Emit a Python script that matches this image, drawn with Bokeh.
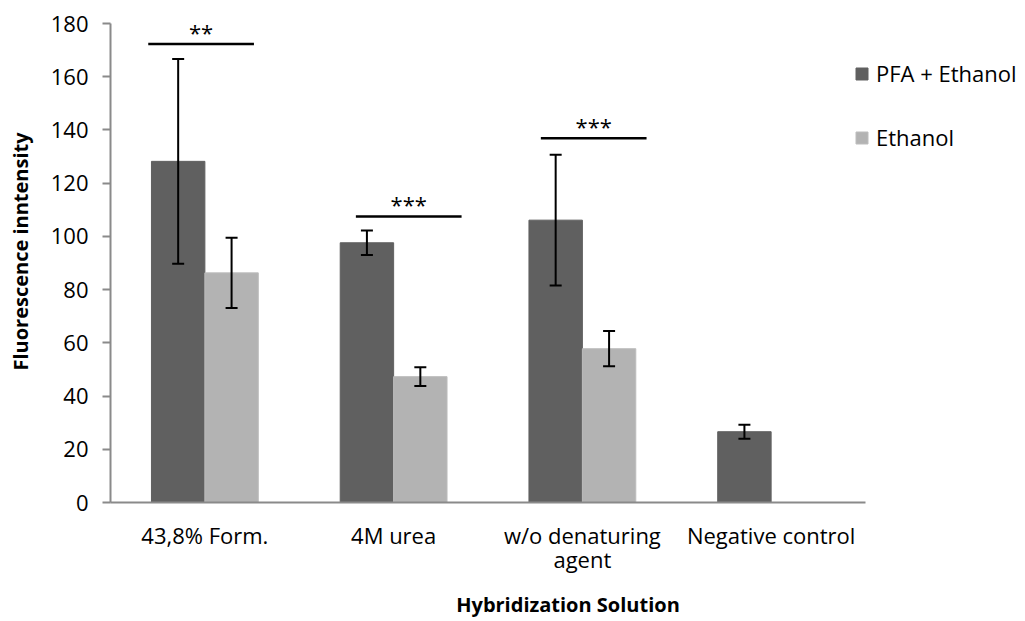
from bokeh.plotting import figure
from bokeh.models import (ColumnDataSource, Range1d, FixedTicker, Whisker, TeeHead,
                          Label, Legend, LegendItem)
from bokeh.embed import file_html
from bokeh.resources import INLINE

# Data
categories = ["43,8% Form.", "4M urea", "w/o denaturing\nagent", "Negative control"]
pfa_ethanol = [128.2, 97.6, 106.1, 26.6]
pfa_ethanol_err = [38.5, 4.6, 24.6, 2.6]
ethanol = [86.3, 47.3, 57.8]
ethanol_err = [13.2, 3.5, 6.6]

# Significance brackets: category index, left/right offsets (category units), level, stars
sig_category = [0, 1, 2]
sig_left = [-0.30, -0.20, -0.22]
sig_right = [0.26, 0.36, 0.34]
sig_level = [172.3, 107.5, 136.9]
sig_stars = ["**", "***", "***"]

FONT = "Open Sans"
DARK = "#606060"
LIGHT = "#b3b3b3"
AXIS = "#8a8a8a"
BAR_W = 0.283

n = len(categories)
centers = [i + 0.5 for i in range(n)]

# Frame spans the whole area right of / above the axes; axis lines are bounded
FRAME_W, FRAME_H = 915, 502
PX_PER_CAT = 188.75
PX_PER_UNIT = 479 / 180

p = figure(width=1025, height=621, frame_width=FRAME_W, frame_height=FRAME_H,
           output_backend="svg", toolbar_location=None,
           x_range=Range1d(0, FRAME_W / PX_PER_CAT),
           y_range=Range1d(0, FRAME_H / PX_PER_UNIT),
           min_border_left=110, min_border_right=0, min_border_top=0,
           min_border_bottom=0)
p.outline_line_color = None
p.grid.grid_line_color = None
p.background_fill_color = "white"
p.border_fill_color = "white"

dark_src = ColumnDataSource(dict(
    x=[c - BAR_W / 2 for c in centers], top=pfa_ethanol,
    lo=[v - e for v, e in zip(pfa_ethanol, pfa_ethanol_err)],
    hi=[v + e for v, e in zip(pfa_ethanol, pfa_ethanol_err)]))
light_src = ColumnDataSource(dict(
    x=[c + BAR_W / 2 for c in centers[:len(ethanol)]], top=ethanol,
    lo=[v - e for v, e in zip(ethanol, ethanol_err)],
    hi=[v + e for v, e in zip(ethanol, ethanol_err)]))

r_dark = p.vbar(x="x", top="top", width=BAR_W, source=dark_src,
                fill_color=DARK, line_color=DARK)
r_light = p.vbar(x="x", top="top", width=BAR_W, source=light_src,
                 fill_color=LIGHT, line_color="#bdbdbd")

for src in (dark_src, light_src):
    w = Whisker(base="x", lower="lo", upper="hi", source=src, level="overlay",
                line_color="black", line_width=2,
                upper_head=TeeHead(size=12, line_color="black", line_width=2),
                lower_head=TeeHead(size=12, line_color="black", line_width=2))
    p.add_layout(w)

# Significance lines and stars
sig_x0 = [centers[i] + l for i, l in zip(sig_category, sig_left)]
sig_x1 = [centers[i] + r for i, r in zip(sig_category, sig_right)]
p.segment(x0=sig_x0, x1=sig_x1, y0=sig_level, y1=sig_level,
          line_color="black", line_width=2.5)
for x0, x1, y, s in zip(sig_x0, sig_x1, sig_level, sig_stars):
    p.add_layout(Label(x=(x0 + x1) / 2, y=y, text=s, y_offset=12,
                       text_align="center", text_baseline="alphabetic",
                       text_font=FONT, text_font_size="22px", text_color="black"))

# Axes
p.yaxis.bounds = (0, 180)
p.yaxis.ticker = FixedTicker(ticks=list(range(0, 181, 20)))
p.yaxis.minor_tick_line_color = None
p.yaxis.major_tick_in = 0
p.yaxis.major_tick_out = 8
p.yaxis.major_label_standoff = 14
p.yaxis.axis_line_color = AXIS
p.yaxis.axis_line_width = 2
p.yaxis.major_tick_line_color = AXIS
p.yaxis.major_tick_line_width = 2
p.yaxis.major_label_text_font = FONT
p.yaxis.major_label_text_font_size = "22px"
p.yaxis.major_label_text_color = "black"
p.yaxis.axis_label = "Fluorescence inntensity"
p.yaxis.axis_label_text_font = FONT
p.yaxis.axis_label_text_font_style = "bold"
p.yaxis.axis_label_text_font_size = "20px"
p.yaxis.axis_label_text_color = "black"
p.yaxis.axis_label_standoff = 14

p.xaxis.bounds = (0, n)
p.xaxis.ticker = FixedTicker(ticks=centers)
p.xaxis.major_label_overrides = {c: lab for c, lab in zip(centers, categories)}
p.xaxis.minor_tick_line_color = None
p.xaxis.major_tick_line_color = None
p.xaxis.major_tick_in = 0
p.xaxis.major_tick_out = 0
p.xaxis.major_label_standoff = 17
p.xaxis.axis_line_color = AXIS
p.xaxis.axis_line_width = 2
p.xaxis.major_label_text_font = FONT
p.xaxis.major_label_text_font_size = "22px"
p.xaxis.major_label_text_line_height = 0.83
p.xaxis.major_label_text_color = "black"
p.xaxis.axis_label = "Hybridization Solution"
p.xaxis.axis_label_text_font = FONT
p.xaxis.axis_label_text_font_style = "bold"
p.xaxis.axis_label_text_font_size = "20px"
p.xaxis.axis_label_text_color = "black"
p.xaxis.axis_label_standoff = 14

# Legend
legend = Legend(items=[LegendItem(label="PFA + Ethanol", renderers=[r_dark]),
                       LegendItem(label="Ethanol", renderers=[r_light])],
                location=(744, 350), orientation="vertical",
                glyph_width=15, glyph_height=15, label_height=15,
                label_standoff=7, spacing=34, padding=0, margin=0,
                border_line_color=None, background_fill_alpha=0,
                label_text_font=FONT, label_text_font_size="22px",
                label_text_color="black")
p.add_layout(legend)

open("out.html", "w").write(file_html(p, INLINE))
